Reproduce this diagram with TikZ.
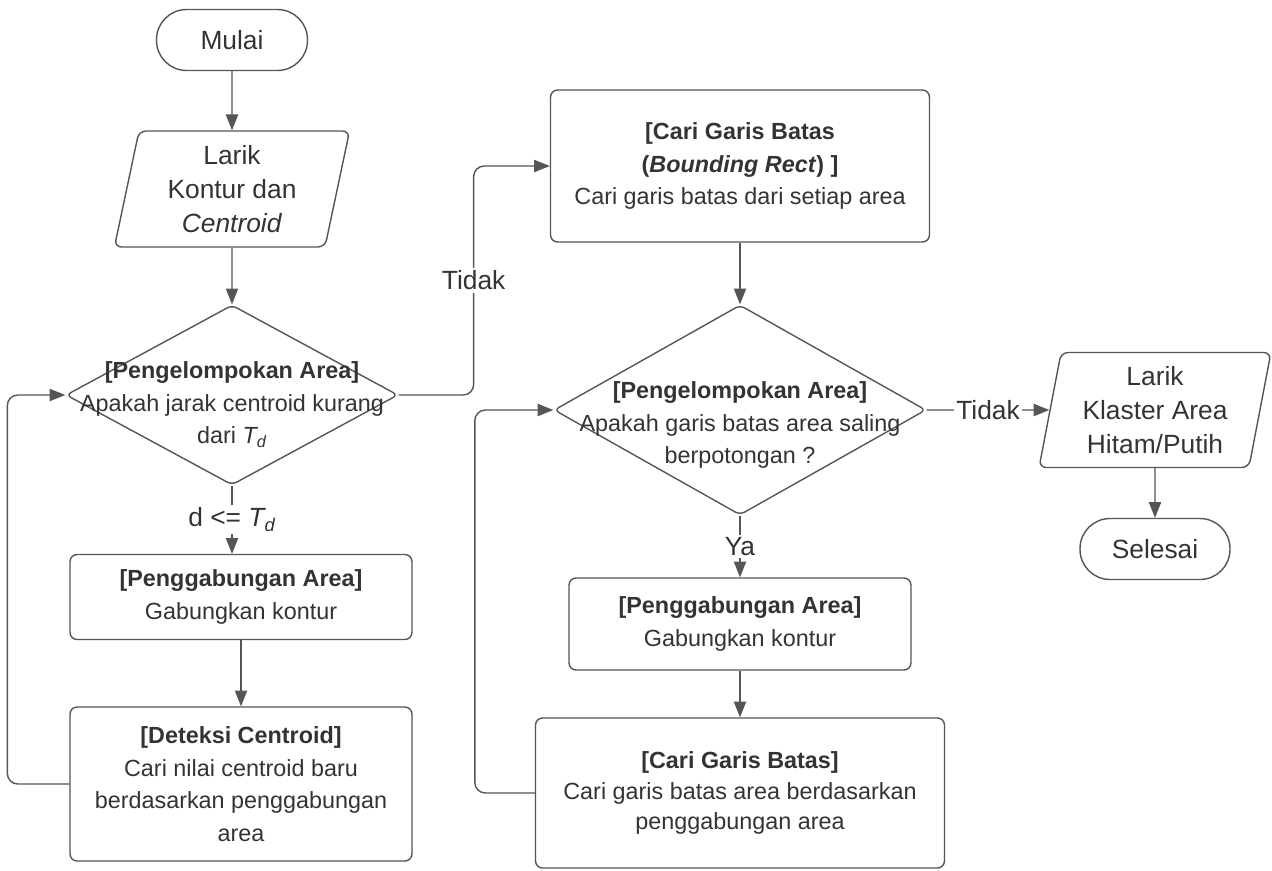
\documentclass[tikz,border=0pt]{standalone}
\usepackage{fontspec}
\setmainfont{Liberation Sans}
\usetikzlibrary{arrows.meta,shapes.geometric,positioning}

\definecolor{linegray}{HTML}{555555}
\definecolor{textgray}{HTML}{333333}
\newcommand{\Tdist}{\textit{T\textsubscript{d}}}
\newcommand{\chartfont}{\fontsize{13.3}{18.5}\selectfont}
\newcommand{\bigchartfont}{\fontsize{15}{19.4}\selectfont}

\tikzset{
  base/.style={draw=linegray, line width=0.8pt, text=textgray, align=center, font=\chartfont},
  terminal/.style={base, font=\bigchartfont, rounded corners=0.6cm, minimum width=3.02cm, minimum height=1.22cm},
  process/.style={base, rounded corners=4pt, inner sep=0pt},
  io/.style={base, font=\bigchartfont, trapezium, trapezium left angle=79, trapezium right angle=101,
    trapezium stretches=true, rounded corners=4pt, inner sep=0pt},
  decision/.style={draw=linegray, line width=0.8pt, diamond, inner sep=0pt, rounded corners=3pt},
  dtext/.style={text=textgray, align=center, font=\chartfont, inner sep=0pt},
  arr/.style={draw=linegray, line width=0.8pt, -{Triangle[length=9pt,width=7pt]}},
  lbl/.style={fill=white, text=textgray, font=\bigchartfont, inner sep=1.5pt},
}

\begin{document}
\begin{tikzpicture}[x=0.02cm, y=-0.02cm]
    \useasboundingbox (0,0) rectangle (1272,870);

    % Left column
    \node[terminal] (mulai) at (232,40) {Mulai};
    \node[io, minimum width=4.74cm, minimum height=2.32cm] (larik1) at (232,189)
      {Larik\\Kontur dan\\\textit{Centroid}};
    \node[decision, minimum width=6.64cm, minimum height=3.6cm] (d1) at (232,395) {};
    \node[dtext] (d1txt) at ([yshift=-0.2cm]d1.center)
      {\textbf{[Pengelompokan Area]}\\Apakah jarak centroid kurang\\dari \Tdist};
    \node[process, minimum width=6.84cm, minimum height=1.7cm] (box1) at (241,597)
      {\textbf{[Penggabungan Area]}\\Gabungkan kontur};
    \node[process, minimum width=6.84cm, minimum height=3.08cm] (box2) at (241,784)
      {\textbf{[Deteksi Centroid]}\\Cari nilai centroid baru\\berdasarkan penggabungan\\area};

    % Middle column
    \node[process, minimum width=7.58cm, minimum height=3.04cm] (box3) at (740,166)
      {\textbf{[Cari Garis Batas}\\\textbf{(\textit{Bounding Rect}) ]}\\Cari garis batas dari setiap area};
    \node[decision, minimum width=7.44cm, minimum height=4.2cm] (d2) at (740,410) {};
    \node[dtext] (d2txt) at ([yshift=-0.3cm]d2.center)
      {\textbf{[Pengelompokan Area]}\\Apakah garis batas area saling\\berpotongan ?};
    \node[process, minimum width=6.84cm, minimum height=1.84cm] (box4) at (740,624)
      {\textbf{[Penggabungan Area]}\\Gabungkan kontur};
    \node[process, minimum width=8.18cm, minimum height=3cm] (box5) at (740,793)
      {\textbf{[Cari Garis Batas]}\\[-1pt]Cari garis batas area berdasarkan\\[-1pt]penggabungan area};

    % Right column
    \node[io, minimum width=4.64cm, minimum height=2.3cm] (larik2) at (1155,410)
      {Larik\\Klaster Area\\Hitam/Putih};
    \node[terminal, minimum width=3cm] (selesai) at (1155,549) {Selesai};

    % Connectors
    \draw[arr] (mulai) -- (larik1);
    \draw[arr] (larik1) -- (d1);
    \draw[arr] (d1.south) -- node[lbl] (cond1) {d <= \Tdist} (d1.south |- box1.north);
    \draw[arr] (box1) -- (box2);
    \draw[arr, rounded corners=6pt] (box2.west) -- ++(-62,0) |- (d1.west);
    \draw[arr, rounded corners=6pt] (d1.east) -- ++(75,0)
      |- node[pos=0.25, lbl] (tidak1) {Tidak} (box3.west);

    \draw[arr] (box3) -- (d2);
    \draw[arr] (d2.south) -- node[lbl] (ya) {Ya} (d2.south |- box4.north);
    \draw[arr] (box4) -- (box5);
    \draw[arr, rounded corners=6pt] (box5.west) -- ++(-60,0) |- (d2.west);
    \draw[arr] (d2.east) -- node[lbl] (tidak2) {Tidak} (larik2.west);
    \draw[arr] (larik2) -- (selesai);
\end{tikzpicture}
\end{document}
